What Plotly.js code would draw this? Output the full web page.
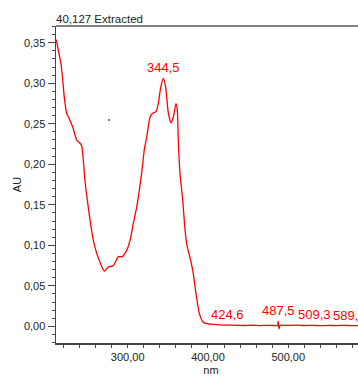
<!DOCTYPE html>
<html>
<head>
<meta charset="utf-8">
<script src="https://cdn.plot.ly/plotly-3.0.1.min.js"></script>
<style>
html, body { margin: 0; padding: 0; overflow: hidden; background: #fff; }
#chart { width: 366px; height: 376px; }
</style>
</head>
<body>
<div id="chart"></div>
<script>
// Spectrum (nm vs AU)
const wavelength = [211, 213.6, 216.9, 219.1, 221, 224, 227.3, 231.5, 236.5, 240.6, 242.7, 244.7, 246.8, 249.7, 253.1, 257.2, 261.4, 265.5, 270.9, 275.8, 282.1, 288.3, 293.3, 298.8, 302.9, 307, 311.2, 317.4, 320.7, 323.7, 327.8, 331.1, 335.2, 338.1, 341.1, 344.5, 347.3, 350.6, 353.9, 356.8, 360.1, 361.8, 363, 365.1, 368.5, 371.4, 374.2, 378.5, 381.7, 385.1, 389.2, 394.1, 400.4, 406.6, 415, 424.6, 435, 445, 455, 465, 475, 483, 486.5, 487.5, 488.5, 490, 500, 509.3, 520, 530, 540, 550, 560, 570, 580, 589, 597];
const absorbance = [0.354, 0.341, 0.324, 0.304, 0.283, 0.263, 0.256, 0.246, 0.230, 0.226, 0.223, 0.205, 0.180, 0.156, 0.131, 0.106, 0.090, 0.079, 0.068, 0.073, 0.075, 0.086, 0.086, 0.094, 0.106, 0.127, 0.147, 0.189, 0.218, 0.234, 0.258, 0.263, 0.265, 0.275, 0.295, 0.306, 0.295, 0.263, 0.251, 0.258, 0.275, 0.267, 0.230, 0.189, 0.156, 0.119, 0.098, 0.081, 0.065, 0.040, 0.016, 0.005, 0.003, 0.0025, 0.0018, 0.0015, 0.0012, 0.0010, 0.0013, 0.0009, 0.0012, 0.0010, 0.0008, 0.0060, -0.0030, 0.0012, 0.0011, 0.0015, 0.0010, 0.0012, 0.0008, 0.0011, 0.0009, 0.0012, 0.0008, 0.0010, 0.0009];

// Peak labels
const peakNm = [344.5, 424.6, 487.5, 509.3, 589.1];
const peakAU = [0.306, 0.0015, 0.0060, 0.0015, 0.0010];
const peakText = ["344,5", "424,6", "487,5", "509,3", "589,1"];

// Stray point in the plot area
const dotNm = [276.7];
const dotAU = [0.2547];

// Tick labels
const xTickVals = [300, 400, 500];
const xTickText = ["300,00", "400,00", "500,00"];
const yTickVals = [0, 0.05, 0.10, 0.15, 0.20, 0.25, 0.30, 0.35];
const yTickText = ["0,00", "0,05", "0,10", "0,15", "0,20", "0,25", "0,30", "0,35"];

const FONT = "Arial, 'Liberation Sans', sans-serif";

const traces = [
  {
    x: wavelength, y: absorbance, type: 'scatter', mode: 'lines',
    line: { color: '#ff0000', width: 1.3, shape: 'spline', smoothing: 0.5 },
    hoverinfo: 'skip'
  },
  {
    x: dotNm, y: dotAU, type: 'scatter', mode: 'markers',
    marker: { color: '#555', size: 2 }, hoverinfo: 'skip'
  }
];

const xShifts = [0, 0, 0, 0, -29];
const xAnchors = ['center', 'center', 'center', 'left', 'left'];
const annotations = peakNm.map((nm, i) => ({
  x: nm, y: peakAU[i], xref: 'x', yref: 'y',
  text: peakText[i], showarrow: false,
  xanchor: xAnchors[i], yanchor: 'bottom', yshift: 1, xshift: xShifts[i],
  font: { family: FONT, size: 13, color: '#ff0000' }
}));

const layout = {
  width: 366, height: 376,
  margin: { l: 56, r: 0, t: 26, b: 33, pad: 0 },
  paper_bgcolor: '#fff', plot_bgcolor: '#fff',
  showlegend: false,
  font: { family: FONT, size: 11, color: '#222' },
  title: {
    text: '40,127 Extracted', font: { family: FONT, size: 11.5, color: '#222' },
    xref: 'paper', x: 0, xanchor: 'left',
    yref: 'container', y: 1 - 19 / 376, yanchor: 'middle'
  },
  xaxis: {
    range: [210.7, 596.8], showgrid: false, zeroline: false,
    showline: true, linecolor: '#444', linewidth: 1.5,
    ticks: 'outside', ticklen: 3, tickcolor: '#444', tickwidth: 1,
    tickmode: 'array', tickvals: xTickVals, ticktext: xTickText,
    tickfont: { family: FONT, size: 11, color: '#222' },
    minor: { tickmode: 'linear', tick0: 200, dtick: 20, ticklen: 3, tickcolor: '#444', tickwidth: 1, showgrid: false },
    title: { text: 'nm', font: { family: FONT, size: 11, color: '#222' }, standoff: 9 },
    automargin: false, fixedrange: true
  },
  yaxis: {
    range: [-0.0206, 0.3707], showgrid: false, zeroline: false,
    showline: true, linecolor: '#444', linewidth: 1.5,
    ticks: 'outside', ticklen: 7, tickcolor: '#444', tickwidth: 1,
    tickmode: 'array', tickvals: yTickVals, ticktext: yTickText,
    tickfont: { family: FONT, size: 11, color: '#222' },
    minor: { tickmode: 'linear', tick0: 0, dtick: 0.01, ticklen: 3, tickcolor: '#444', tickwidth: 1, showgrid: false },
    title: { text: 'AU', font: { family: FONT, size: 11, color: '#222' }, standoff: 0 },
    automargin: false, fixedrange: true
  },
  shapes: [
    { type: 'line', xref: 'paper', yref: 'paper', x0: 0, x1: 1, y0: 1, y1: 1,
      line: { color: '#808080', width: 2 } }
  ],
  annotations: annotations
};

Plotly.newPlot('chart', traces, layout, { displayModeBar: false, staticPlot: true });
</script>
</body>
</html>
